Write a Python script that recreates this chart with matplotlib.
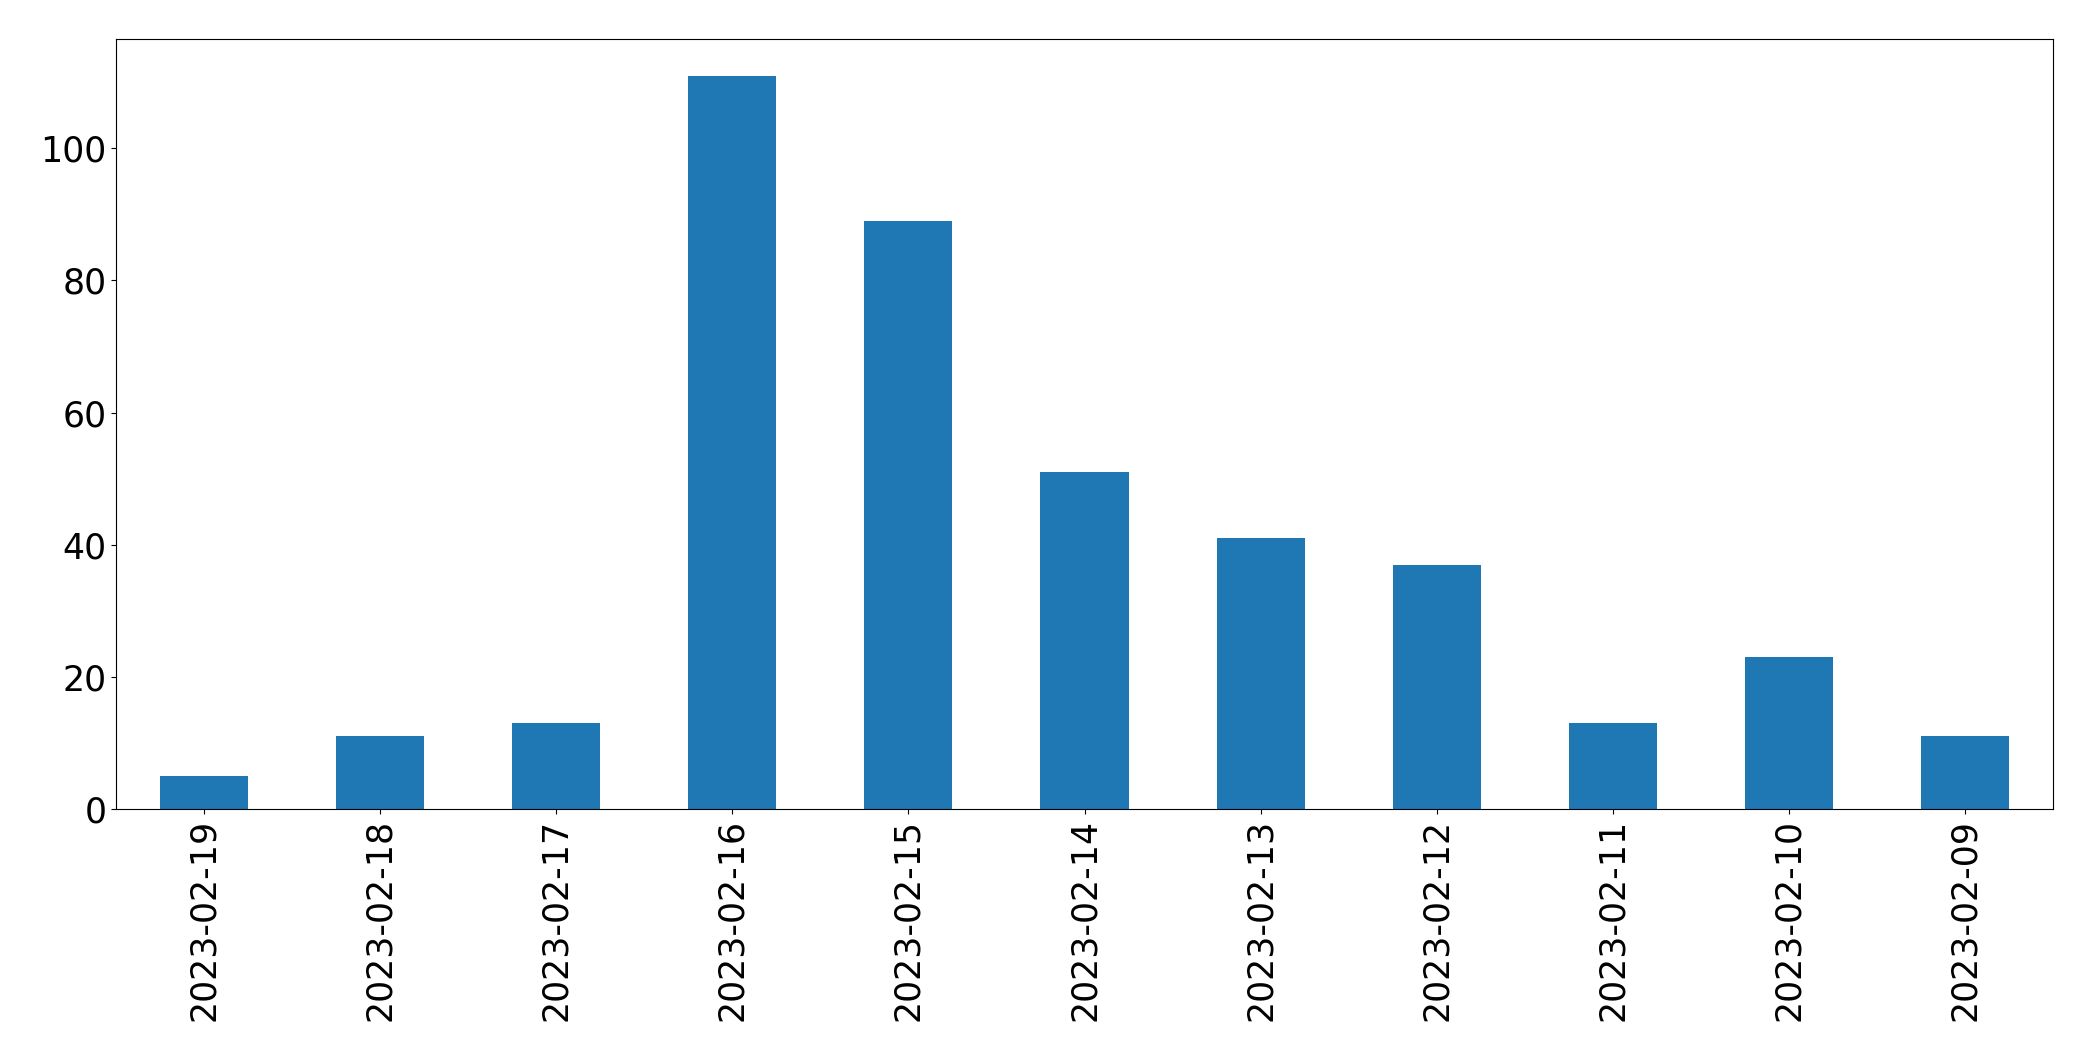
import pandas as pd
from matplotlib import pyplot as plt

dates = ['2023-02-19', '2023-02-18', '2023-02-17', '2023-02-16', '2023-02-15',
         '2023-02-14', '2023-02-13', '2023-02-12', '2023-02-11', '2023-02-10',
         '2023-02-09']
counts = [5, 11, 13, 111, 89, 51, 41, 37, 13, 23, 11]

s = pd.Series(counts, index=dates)

fig = plt.figure(figsize=(20.93, 10.61), dpi=100)
ax = fig.add_axes([116 / 2093, 1 - 809 / 1061, (2053 - 116) / 2093, (809 - 39) / 1061])
s.plot(kind='bar', ax=ax, color='#1f77b4')
ax.tick_params(axis='both', labelsize=25)
ax.set_xlabel('')

fig.savefig('out.png', dpi=100)
